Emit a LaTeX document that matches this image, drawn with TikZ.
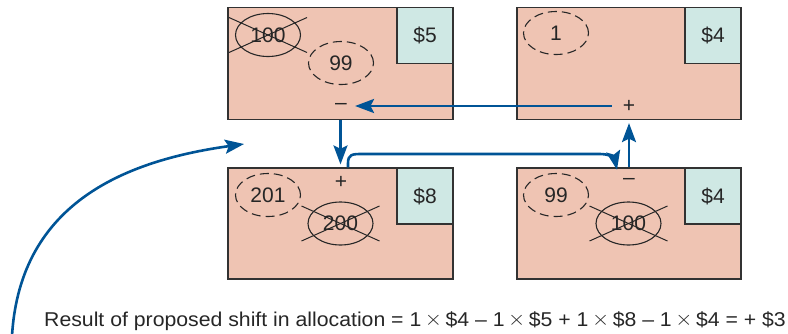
\documentclass[tikz,border=0pt]{standalone}
\usepackage{fontspec}
\setmainfont{Liberation Sans}
\usetikzlibrary{shapes.geometric,arrows.meta}
\definecolor{boxfill}{RGB}{239,196,179}
\definecolor{costfill}{RGB}{207,232,228}
\definecolor{arrblue}{RGB}{0,84,150}
\definecolor{edge}{RGB}{50,50,50}
\newcommand{\tms}{\raisebox{0.5pt}{\fontsize{20}{24}\selectfont$\times$}}
\tikzset{
  cell/.style={draw=edge, line width=1.2pt, fill=boxfill, rectangle, inner sep=0pt},
  cost/.style={draw=edge, line width=1.2pt, fill=costfill, rectangle, minimum width=56pt, minimum height=56pt, inner sep=0pt, font=\fontsize{21}{24}\selectfont, text=black!85},
  val/.style={ellipse, draw=black!85, line width=1.1pt, minimum width=65pt, minimum height=43pt, inner sep=0pt, font=\fontsize{21}{24}\selectfont, text=black!85},
  newval/.style={val, dash pattern=on 9pt off 5pt},
  oldval/.style={val},
  sign/.style={inner sep=0pt, font=\fontsize{21}{24}\selectfont, text=black!85},
  cross/.style={draw=black!85, line width=1pt},
  arr/.style={draw=arrblue, line width=2.6pt, -{Stealth[length=19pt,width=14pt,inset=3.5pt]}},
  caption/.style={inner sep=0pt, font=\fontsize{20}{24}\selectfont, text=black!85}
}
\begin{document}
\begin{tikzpicture}[x=1pt,y=-1pt]
\useasboundingbox (0,0) rectangle (788,333);
% cells
\node[cell, minimum width=225pt, minimum height=112pt] (tl) at (340.5,63.5) {};
\node[cell, minimum width=224pt, minimum height=112pt] (tr) at (629,63.5) {};
\node[cell, minimum width=225pt, minimum height=111pt] (bl) at (340.5,223.5) {};
\node[cell, minimum width=224pt, minimum height=111pt] (br) at (629,223.5) {};
% costs
\node[cost, anchor=north east] (ctl) at (tl.north east) {\$5};
\node[cost, anchor=north east] (ctr) at (tr.north east) {\$4};
\node[cost, anchor=north east] (cbl) at (bl.north east) {\$8};
\node[cost, anchor=north east] (cbr) at (br.north east) {\$4};
% values
\node[oldval] (v100a) at (268,35) {100};
\node[newval] (v99a) at (341,63) {99};
\node[newval] (v1) at (556,33) {1};
\node[newval] (v201) at (268,195) {201};
\node[oldval] (v200) at (340.5,223.5) {200};
\node[newval] (v99b) at (556,195) {99};
\node[oldval] (v100b) at (628.5,223.5) {100};
% crosses
\foreach \e in {v100a,v200,v100b}{
  \draw[cross] ([shift={(-39,-17.5)}]\e.center) -- ([shift={(39,17.5)}]\e.center);
  \draw[cross] ([shift={(-39,17.5)}]\e.center) -- ([shift={(39,-17.5)}]\e.center);
}
% signs
\node[sign] (m1) at (341,106) {–};
\node[sign] (p1) at (629,106) {+};
\node[sign] (p2) at (341,182) {+};
\node[sign] (m2) at (629,181) {–};
% arrows
\draw[arr] ([xshift=-11pt]p1.west) -- ([xshift=8pt]m1.east);
\draw[arr, shorten >=3pt] (tl.south) -- (bl.north);
\coordinate (a3s) at ([xshift=7.5pt]bl.north);
\coordinate (a3e) at ([shift={(-12,-8)}]m2.north);
\draw[arr] (a3s) -- ++(0,-4) .. controls ++(0,-9) and (352,154) .. (362,154) -- (600,154) .. controls (612,154) and (615,160) .. (a3e);
\draw[arr, shorten >=3pt] (br.north) -- (tr.south);
% caption and curved arrow
\node[caption, anchor=base west] (cap) at (44,326) {\scalebox{1.062}[1]{Result of proposed shift in allocation = 1\,\tms\,\$4 – 1\,\tms\,\$5 + 1\,\tms\,\$8 – 1\,\tms\,\$4 = + \$3}};
\coordinate (cs) at (12,336);
\coordinate (ce) at (244,144);
\draw[arr] (cs) .. controls (20,200) and (130,160) .. (ce);
\end{tikzpicture}
\end{document}
